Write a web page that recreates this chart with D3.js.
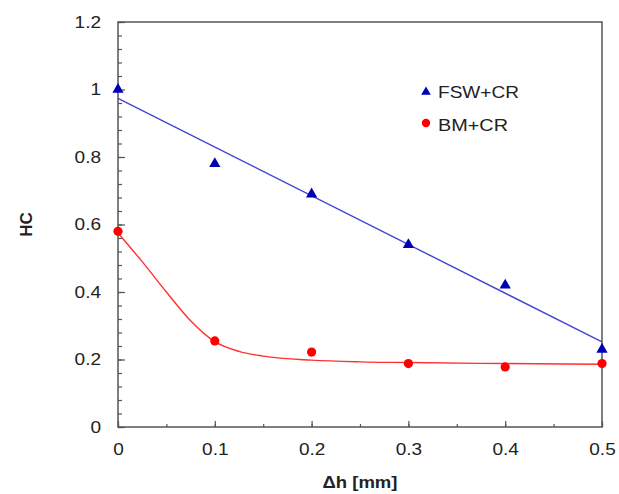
<!DOCTYPE html>
<html><head><meta charset="utf-8">
<script src="https://cdn.jsdelivr.net/npm/d3@7"></script>
<style>
html,body{margin:0;padding:0;background:#fff;}
text{font-family:"Liberation Sans",Arial,sans-serif;fill:#222;}
</style></head>
<body><svg id="c" width="619" height="494"></svg>
<script>
const dh = [0, 0.1, 0.2, 0.3, 0.4, 0.5];
const fswCR = [1.0, 0.78, 0.69, 0.54, 0.42, 0.23];
const bmCR = [0.58, 0.255, 0.222, 0.188, 0.178, 0.188];
const fswFitX = [0, 0.5];
const fswFitY = [0.974, 0.252];
const bmFitX = [0, 0.025, 0.05, 0.075, 0.1, 0.125, 0.15, 0.2, 0.25, 0.3, 0.4, 0.5];
const bmFitY = [0.575, 0.49, 0.40, 0.315, 0.253, 0.224, 0.210, 0.198, 0.193, 0.191, 0.188, 0.186];
const xTicks = [0, 0.1, 0.2, 0.3, 0.4, 0.5];
const yTicks = [0, 0.2, 0.4, 0.6, 0.8, 1, 1.2];
const seriesNames = ["FSW+CR", "BM+CR"];

const svg = d3.select("#c");
const L = 118, R = 602, T = 22, B = 427;
const SX = 1.12; // horizontal stretch of the reference's text
const x = d3.scaleLinear().domain([0, 0.5]).range([L, R]);
const y = d3.scaleLinear().domain([0, 1.2]).range([B, T]);
const axisCol = "#555";

// frame
svg.append("rect").attr("x", L).attr("y", T).attr("width", R - L).attr("height", B - T)
  .attr("fill", "none").attr("stroke", axisCol).attr("stroke-width", 1.5);

// y axis ticks (inward)
const yMinor = d3.range(0, 1.2001, 0.04);
svg.append("g").attr("transform", `translate(${L},0)`)
  .call(d3.axisRight(y).tickValues(yMinor).tickSize(4).tickFormat(""))
  .call(g => g.select(".domain").remove());
svg.append("g").attr("transform", `translate(${L},0)`)
  .call(d3.axisRight(y).tickValues(yTicks).tickSize(7).tickFormat(""))
  .call(g => g.select(".domain").remove());
svg.append("g").attr("transform", `translate(${L},0)`)
  .call(d3.axisLeft(y).tickValues(yTicks).tickSize(0).tickPadding(17).tickFormat(d => d3.format("")(d)))
  .call(g => g.select(".domain").remove())
  .selectAll("text").style("font-size", "17px").attr("fill", "#222")
  .attr("x", -17 / SX).attr("transform", `scale(${SX},1)`);

// x axis ticks (inward)
const xMinor = d3.range(0, 0.5001, 0.05);
svg.append("g").attr("transform", `translate(0,${B})`)
  .call(d3.axisTop(x).tickValues(xMinor).tickSize(3).tickFormat(""))
  .call(g => g.select(".domain").remove());
svg.append("g").attr("transform", `translate(0,${B})`)
  .call(d3.axisTop(x).tickValues(xTicks).tickSize(6).tickFormat(""))
  .call(g => g.select(".domain").remove());
svg.append("g").attr("transform", `translate(0,${B})`)
  .call(d3.axisBottom(x).tickValues(xTicks).tickSize(0).tickPadding(16).tickFormat(d => d3.format("")(d)))
  .call(g => g.select(".domain").remove())
  .selectAll("text").style("font-size", "17px").attr("fill", "#222")
  .attr("transform", `scale(${SX},1)`);
svg.selectAll(".tick line").attr("stroke", axisCol).attr("stroke-width", 1.2);

// axis titles
svg.append("text").attr("transform", `translate(32,${(T + B) / 2}) rotate(-90)`)
  .attr("text-anchor", "middle").style("font-size", "17px").style("font-weight", "bold").text("HC");
svg.append("text").attr("x", (L + R) / 2).attr("y", 488)
  .attr("text-anchor", "middle").style("font-size", "17px").style("font-weight", "bold")
  .attr("textLength", 75).attr("lengthAdjust", "spacingAndGlyphs").text("Δh [mm]");

// fit lines
const line = d3.line().x(d => x(d[0])).y(d => y(d[1]));
svg.append("path").datum(d3.zip(fswFitX, fswFitY)).attr("d", line)
  .attr("fill", "none").attr("stroke", "#4444cc").attr("stroke-width", 1.4);
svg.append("path").datum(d3.zip(bmFitX, bmFitY)).attr("d", line.curve(d3.curveMonotoneX))
  .attr("fill", "none").attr("stroke", "#ff3030").attr("stroke-width", 1.4);

// markers
const tri = d3.symbol().type(d3.symbolTriangle).size(55);
svg.append("g").selectAll("path").data(d3.zip(dh, fswCR)).join("path")
  .attr("d", tri).attr("transform", d => `translate(${x(d[0])},${y(d[1])})`)
  .attr("fill", "#0000b4");
svg.append("g").selectAll("circle").data(d3.zip(dh, bmCR)).join("circle")
  .attr("cx", d => x(d[0])).attr("cy", d => y(d[1])).attr("r", 4.6)
  .attr("fill", "#ff0000");

// legend
const lg = svg.append("g");
lg.append("path").attr("d", d3.symbol().type(d3.symbolTriangle).size(40))
  .attr("transform", "translate(426,92)").attr("fill", "#0000b4");
lg.append("text").attr("x", 438).attr("y", 98).style("font-size", "17px")
  .attr("textLength", 81).attr("lengthAdjust", "spacingAndGlyphs").text(seriesNames[0]);
lg.append("circle").attr("cx", 426).attr("cy", 123).attr("r", 4.2).attr("fill", "#ff0000");
lg.append("text").attr("x", 438).attr("y", 131).style("font-size", "17px")
  .attr("textLength", 70).attr("lengthAdjust", "spacingAndGlyphs").text(seriesNames[1]);
</script></body></html>
